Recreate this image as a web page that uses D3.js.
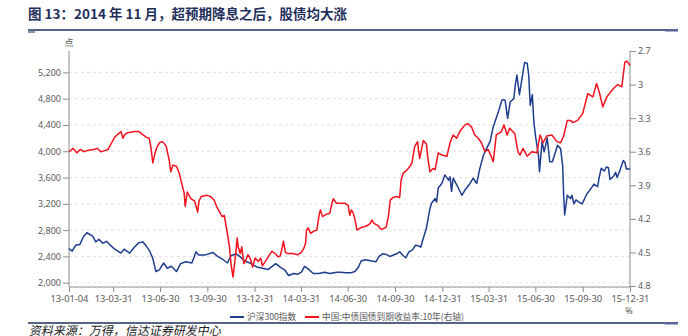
<!DOCTYPE html>
<html><head><meta charset="utf-8">
<script src="https://cdn.jsdelivr.net/npm/d3@7"></script>
<style>body{margin:0;background:#fff}svg{display:block}</style>
</head><body><svg id="c" width="688" height="336"></svg>
<script>
const titleText = "图 13：2014 年 11 月，超预期降息之后，股债均大涨";
const sourceText = "资料来源：万得，信达证券研发中心";
const seriesNames = ["沪深300指数", "中国:中债国债到期收益率:10年(右轴)"];
const leftUnit = "点";
const rightUnit = "%";
const xTickDates = ["2013-01-04","2013-03-31","2013-06-30","2013-09-30","2013-12-31","2014-03-31","2014-06-30","2014-09-30","2014-12-31","2015-03-31","2015-06-30","2015-09-30","2015-12-31"];
const leftTicks = [2000,2400,2800,3200,3600,4000,4400,4800,5200];
const rightTicks = [2.7,3,3.3,3.6,3.9,4.2,4.5,4.8];

const hs300Dates = ["2013-01-04","2013-01-10","2013-01-17","2013-01-25","2013-02-01","2013-02-08","2013-02-19","2013-02-25","2013-03-03","2013-03-11","2013-03-18","2013-03-24","2013-04-03","2013-04-15","2013-04-21","2013-05-02","2013-05-11","2013-05-20","2013-05-28","2013-06-03","2013-06-10","2013-06-16","2013-06-22","2013-06-29","2013-07-07","2013-07-14","2013-07-22","2013-08-01","2013-08-09","2013-08-19","2013-08-31","2013-09-08","2013-09-13","2013-09-25","2013-10-11","2013-10-20","2013-10-31","2013-11-08","2013-11-15","2013-11-25","2013-12-02","2013-12-12","2013-12-22","2014-01-04","2014-01-15","2014-01-26","2014-02-10","2014-02-20","2014-02-28","2014-03-07","2014-03-17","2014-03-25","2014-04-01","2014-04-07","2014-04-14","2014-04-24","2014-05-05","2014-05-16","2014-05-26","2014-06-09","2014-06-16","2014-06-26","2014-07-06","2014-07-14","2014-07-21","2014-07-26","2014-08-03","2014-08-16","2014-08-24","2014-08-30","2014-09-06","2014-09-13","2014-09-20","2014-10-03","2014-10-09","2014-10-16","2014-10-21","2014-10-27","2014-11-03","2014-11-09","2014-11-15","2014-11-19","2014-11-23","2014-11-30","2014-12-07","2014-12-10","2014-12-17","2014-12-20","2014-12-23","2014-12-30","2015-01-05","2015-01-12","2015-01-15","2015-01-18","2015-01-21","2015-01-28","2015-02-07","2015-02-13","2015-02-23","2015-03-01","2015-03-08","2015-03-14","2015-03-21","2015-03-27","2015-04-03","2015-04-09","2015-04-19","2015-04-26","2015-05-02","2015-05-07","2015-05-12","2015-05-19","2015-05-22","2015-05-25","2015-05-30","2015-06-04","2015-06-09","2015-06-14","2015-06-17","2015-06-20","2015-06-24","2015-06-27","2015-06-30","2015-07-03","2015-07-06","2015-07-08","2015-07-13","2015-07-17","2015-07-23","2015-07-28","2015-08-02","2015-08-06","2015-08-12","2015-08-18","2015-08-22","2015-08-24","2015-08-26","2015-08-31","2015-09-06","2015-09-09","2015-09-13","2015-09-17","2015-09-22","2015-09-29","2015-10-08","2015-10-15","2015-10-22","2015-10-29","2015-11-01","2015-11-05","2015-11-11","2015-11-15","2015-11-19","2015-11-22","2015-11-29","2015-12-03","2015-12-06","2015-12-11","2015-12-18","2015-12-21","2015-12-24","2015-12-31"];
const hs300Values = [2520,2480,2570,2580,2700,2760,2710,2620,2660,2600,2630,2580,2510,2450,2510,2450,2540,2610,2620,2560,2480,2370,2170,2200,2300,2220,2250,2170,2290,2320,2300,2470,2420,2420,2460,2400,2350,2300,2410,2440,2400,2330,2300,2240,2220,2200,2290,2230,2190,2110,2140,2130,2160,2250,2210,2140,2140,2160,2140,2160,2160,2150,2150,2170,2240,2330,2350,2330,2320,2400,2440,2430,2400,2440,2470,2410,2380,2470,2500,2570,2560,2540,2650,2830,3130,3210,3280,3230,3440,3510,3640,3560,3610,3390,3590,3490,3330,3410,3510,3590,3510,3740,3940,4040,4150,4370,4600,4780,4780,4500,4750,4800,5010,5160,4860,5110,5350,5340,5160,4700,4860,4450,4250,4090,3940,3690,4150,3990,4200,3840,3840,3940,4090,4040,3790,3330,3030,3330,3280,3330,3200,3260,3230,3200,3350,3420,3500,3460,3600,3740,3700,3760,3750,3570,3620,3680,3600,3700,3860,3830,3730,3730];

const yieldDates = ["2013-01-04","2013-01-12","2013-01-19","2013-01-26","2013-02-02","2013-02-08","2013-02-21","2013-02-28","2013-03-07","2013-03-14","2013-03-21","2013-03-28","2013-04-03","2013-04-10","2013-04-15","2013-04-19","2013-04-22","2013-04-28","2013-05-11","2013-05-20","2013-05-28","2013-06-03","2013-06-09","2013-06-12","2013-06-16","2013-06-20","2013-06-24","2013-06-29","2013-07-05","2013-07-12","2013-07-18","2013-07-21","2013-07-25","2013-08-01","2013-08-07","2013-08-11","2013-08-16","2013-08-18","2013-08-22","2013-08-29","2013-09-05","2013-09-09","2013-09-11","2013-09-14","2013-09-18","2013-09-29","2013-10-06","2013-10-13","2013-10-18","2013-10-29","2013-11-02","2013-11-07","2013-11-12","2013-11-15","2013-11-19","2013-11-22","2013-11-25","2013-11-27","2013-11-29","2013-12-03","2013-12-06","2013-12-10","2013-12-13","2013-12-18","2013-12-23","2013-12-27","2014-01-01","2014-01-07","2014-01-12","2014-01-15","2014-01-21","2014-01-29","2014-02-03","2014-02-09","2014-02-15","2014-02-19","2014-02-23","2014-02-25","2014-03-01","2014-03-05","2014-03-15","2014-03-25","2014-04-01","2014-04-06","2014-04-09","2014-04-11","2014-04-14","2014-04-19","2014-04-25","2014-05-01","2014-05-06","2014-05-08","2014-05-12","2014-05-19","2014-05-26","2014-05-31","2014-06-02","2014-06-08","2014-06-16","2014-06-24","2014-07-01","2014-07-04","2014-07-07","2014-07-10","2014-07-14","2014-07-18","2014-07-25","2014-08-01","2014-08-07","2014-08-13","2014-08-16","2014-08-20","2014-08-28","2014-09-02","2014-09-06","2014-09-11","2014-09-13","2014-09-17","2014-09-21","2014-09-26","2014-10-03","2014-10-09","2014-10-12","2014-10-16","2014-10-19","2014-10-24","2014-10-29","2014-11-02","2014-11-07","2014-11-09","2014-11-13","2014-11-15","2014-11-17","2014-11-24","2014-11-30","2014-12-03","2014-12-07","2014-12-13","2014-12-17","2014-12-23","2014-12-30","2015-01-09","2015-01-15","2015-01-21","2015-01-28","2015-02-03","2015-02-13","2015-02-19","2015-02-26","2015-03-04","2015-03-11","2015-03-17","2015-03-24","2015-03-30","2015-04-04","2015-04-09","2015-04-15","2015-04-25","2015-04-30","2015-05-06","2015-05-11","2015-05-21","2015-05-27","2015-05-31","2015-06-06","2015-06-14","2015-06-23","2015-07-03","2015-07-09","2015-07-15","2015-07-22","2015-08-01","2015-08-11","2015-08-18","2015-08-24","2015-08-31","2015-09-06","2015-09-11","2015-09-20","2015-09-30","2015-10-10","2015-10-20","2015-10-27","2015-11-02","2015-11-08","2015-11-16","2015-11-28","2015-12-07","2015-12-15","2015-12-21","2015-12-25","2015-12-31"];
const yieldValues = [3.60,3.57,3.61,3.58,3.60,3.59,3.58,3.57,3.60,3.59,3.58,3.52,3.47,3.44,3.42,3.48,3.45,3.43,3.42,3.42,3.45,3.47,3.48,3.55,3.70,3.62,3.56,3.52,3.51,3.55,3.68,3.78,3.72,3.73,3.80,3.88,3.97,4.09,3.96,4.02,4.04,4.10,4.14,4.04,4.00,3.99,4.00,4.03,4.09,4.18,4.17,4.30,4.45,4.60,4.72,4.60,4.48,4.37,4.45,4.51,4.45,4.60,4.58,4.52,4.56,4.63,4.55,4.58,4.55,4.62,4.58,4.52,4.49,4.51,4.54,4.53,4.45,4.40,4.50,4.51,4.51,4.52,4.50,4.46,4.42,4.30,4.28,4.33,4.31,4.30,4.15,4.12,4.18,4.16,4.15,4.05,4.02,4.06,4.06,4.06,4.08,4.17,4.12,4.14,4.20,4.30,4.28,4.27,4.26,4.24,4.21,4.24,4.26,4.29,4.29,4.28,4.27,4.18,4.03,4.01,4.00,4.01,3.85,3.79,3.78,3.76,3.73,3.70,3.56,3.54,3.51,3.60,3.66,3.50,3.53,3.66,3.78,3.75,3.76,3.61,3.63,3.64,3.52,3.45,3.48,3.42,3.36,3.35,3.38,3.45,3.48,3.52,3.60,3.58,3.63,3.69,3.45,3.42,3.36,3.45,3.39,3.44,3.60,3.63,3.57,3.64,3.60,3.61,3.45,3.52,3.46,3.45,3.51,3.52,3.46,3.32,3.32,3.34,3.32,3.26,3.08,3.11,2.99,3.08,3.20,3.11,3.04,3.00,3.02,2.80,2.79,2.83];

const m = {left: 69, right: 630, top: 51, bottom: 287};
const parse = d3.timeParse("%Y-%m-%d");
const svg = d3.select("#c");
const gray = "#8c8c8c", labelColor = "#595959", navy = "#1f2f5c";
const blue = "#1f3d8f", red = "#f2111f";

const x = d3.scaleTime().domain([parse("2013-01-04"), parse("2015-12-31")]).range([m.left, m.right]);
const yL = d3.scaleLinear().domain([1935, 5525]).range([m.bottom, m.top]);
const yR = d3.scaleLinear().domain([2.7, 4.8]).range([m.top, 286]);

// title
svg.append("text").attr("x", 28).attr("y", 19).text(titleText)
  .attr("font-family", "'Noto Sans CJK SC', sans-serif").attr("font-weight", "bold")
  .attr("font-size", 13.5).attr("fill", navy);
svg.append("line").attr("x1", 28).attr("x2", 678).attr("y1", 30).attr("y2", 30).attr("stroke", navy).attr("stroke-width", 1.5);
svg.append("rect").attr("x", 28).attr("y", 31).attr("width", 7).attr("height", 2).attr("fill", "#8594b8");
svg.append("rect").attr("x", 665).attr("y", 29).attr("width", 13).attr("height", 2.5).attr("fill", "#55679a");

// gridlines
svg.append("g").selectAll("line").data(leftTicks).join("line")
  .attr("x1", m.left).attr("x2", m.right).attr("y1", d => yL(d)).attr("y2", d => yL(d))
  .attr("stroke", "#d9d9d9").attr("stroke-width", 0.8).attr("stroke-dasharray", "3,3");

// left axis
const leftMinor = d3.range(2000, 5501, 100);
const gL = svg.append("g").attr("transform", `translate(${m.left},0)`);
gL.call(d3.axisLeft(yL).tickValues(leftMinor).tickSize(3).tickFormat(""));
gL.call(d3.axisLeft(yL).tickValues(leftTicks).tickSize(6).tickPadding(2).tickFormat(d3.format(",")));
gL.selectAll(".domain").remove();
gL.append("line").attr("y1", m.top).attr("y2", m.bottom).attr("stroke", gray);
gL.selectAll(".tick line").attr("stroke", gray);
gL.selectAll("text").attr("fill", labelColor).attr("font-size", 9).attr("font-family", "'Noto Sans', sans-serif");

// right axis
const rightMinor = d3.range(27, 49, 1).map(v => v / 10);
const gR = svg.append("g").attr("transform", `translate(${m.right},0)`);
gR.call(d3.axisRight(yR).tickValues(rightMinor).tickSize(3).tickFormat(""));
gR.call(d3.axisRight(yR).tickValues(rightTicks).tickSize(6).tickPadding(2).tickFormat(d3.format("~g")));
gR.selectAll(".domain").remove();
gR.append("line").attr("y1", m.top).attr("y2", m.bottom).attr("stroke", gray);
gR.selectAll(".tick line").attr("stroke", gray);
gR.selectAll("text").attr("fill", labelColor).attr("font-size", 9).attr("font-family", "'Noto Sans', sans-serif");

// x axis
const monthEnds = d3.timeMonth.range(parse("2013-02-01"), parse("2016-01-02")).map(d => d3.timeDay.offset(d, -1));
const gX = svg.append("g").attr("transform", `translate(0,${m.bottom})`);
gX.call(d3.axisBottom(x).tickValues(monthEnds).tickSize(4).tickFormat(""));
gX.call(d3.axisBottom(x).tickValues(xTickDates.map(parse)).tickSize(5).tickPadding(3).tickFormat(d3.timeFormat("%y-%m-%d")));
gX.selectAll(".domain").remove();
gX.append("line").attr("x1", m.left).attr("x2", m.right).attr("stroke", gray);
gX.selectAll(".tick line").attr("stroke", gray);
gX.selectAll("text").attr("fill", labelColor).attr("font-size", 9.3).attr("font-family", "'Noto Sans', sans-serif");

// units
svg.append("text").attr("x", m.left).attr("y", 46).attr("text-anchor", "middle").text(leftUnit)
  .attr("font-size", 9).attr("fill", labelColor).attr("font-family", "'Noto Sans CJK SC', sans-serif");
svg.append("text").attr("x", 629).attr("y", 314).attr("text-anchor", "middle").text(rightUnit)
  .attr("font-size", 9).attr("fill", labelColor).attr("font-family", "'Noto Sans', sans-serif");

// lines
const hs = hs300Dates.map((d, i) => ({d: parse(d), v: hs300Values[i]}));
const yl = yieldDates.map((d, i) => ({d: parse(d), v: yieldValues[i]}));
svg.append("path").datum(hs).attr("fill", "none").attr("stroke", blue).attr("stroke-width", 1.5)
  .attr("stroke-linejoin", "round").attr("d", d3.line().x(p => x(p.d)).y(p => yL(p.v)));
svg.append("path").datum(yl).attr("fill", "none").attr("stroke", red).attr("stroke-width", 1.5)
  .attr("stroke-linejoin", "round").attr("d", d3.line().x(p => x(p.d)).y(p => yR(p.v)));

// legend
const legendItems = [{name: seriesNames[0], color: blue, x: 230}, {name: seriesNames[1], color: red, x: 305}];
const lg = svg.append("g");
legendItems.forEach(it => {
  lg.append("line").attr("x1", it.x).attr("x2", it.x + 14).attr("y1", 317).attr("y2", 317).attr("stroke", it.color).attr("stroke-width", 2);
  lg.append("text").attr("x", it.x + 17).attr("y", 320).text(it.name)
    .attr("font-size", 8.7).attr("fill", labelColor).attr("font-family", "'Noto Sans CJK SC', sans-serif");
});

// footer
svg.append("line").attr("x1", 28).attr("x2", 678).attr("y1", 323).attr("y2", 323).attr("stroke", navy).attr("stroke-width", 1.5);
svg.append("rect").attr("x", 665).attr("y", 322).attr("width", 13).attr("height", 2.5).attr("fill", "#55679a");
svg.append("text").attr("transform", "translate(29,334.5) skewX(-12)").text(sourceText)
  .attr("font-size", 12).attr("fill", "#222").attr("font-family", "'Noto Sans CJK SC', sans-serif");
</script></body></html>
